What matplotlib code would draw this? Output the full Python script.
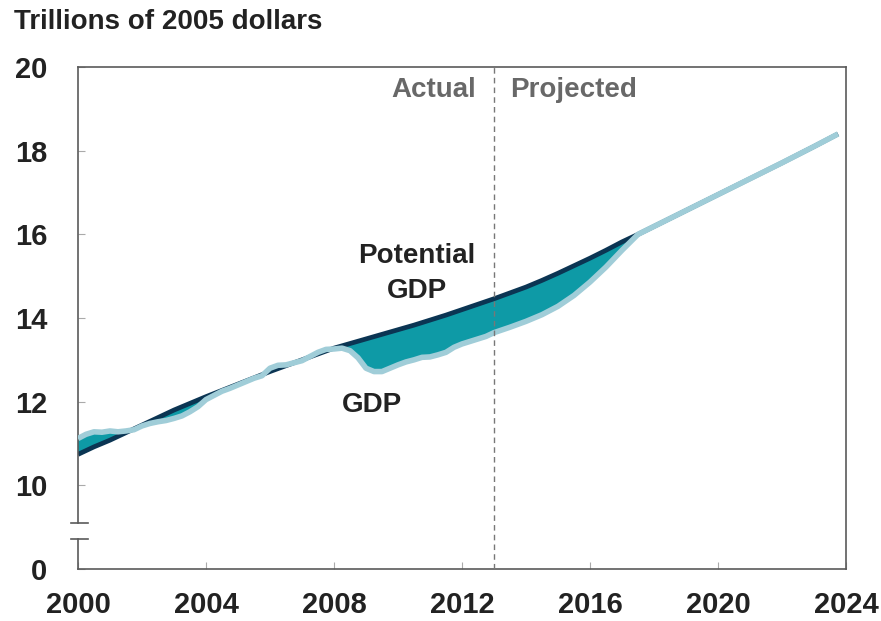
import numpy as np
import matplotlib
matplotlib.use("Agg")
import matplotlib.pyplot as plt
import matplotlib.transforms as mtransforms

plt.rcParams['font.family'] = ['Liberation Sans', 'DejaVu Sans']
plt.rcParams['font.weight'] = 'bold'

# actual + projected GDP (trillions of 2005 dollars)
gdp_years = [2000.0, 2000.25, 2000.5, 2000.75, 2001.0, 2001.25, 2001.5, 2001.75,
             2002.0, 2002.25, 2002.5, 2002.75, 2003.0, 2003.25, 2003.5, 2003.75,
             2004.0, 2004.25, 2004.5, 2004.75, 2005.0, 2005.25, 2005.5, 2005.75,
             2006.0, 2006.25, 2006.5, 2006.75, 2007.0, 2007.25, 2007.5, 2007.75,
             2008.0, 2008.25, 2008.5, 2008.75, 2009.0, 2009.25, 2009.5, 2009.75,
             2010.0, 2010.25, 2010.5, 2010.75, 2011.0, 2011.25, 2011.5, 2011.75,
             2012.0, 2012.25, 2012.5, 2012.75, 2013.0,
             2013.5, 2014.0, 2014.5, 2015.0, 2015.5, 2016.0, 2016.5, 2017.0, 2017.5,
             2018.0, 2019.0, 2020.0, 2021.0, 2022.0, 2023.0, 2023.75]
gdp = [11.12, 11.22, 11.28, 11.27, 11.30, 11.28, 11.30, 11.33,
       11.42, 11.48, 11.52, 11.55, 11.60, 11.66, 11.76, 11.88,
       12.05, 12.15, 12.25, 12.32, 12.40, 12.48, 12.56, 12.62,
       12.80, 12.87, 12.88, 12.93, 12.98, 13.08, 13.18, 13.25,
       13.26, 13.28, 13.22, 13.05, 12.80, 12.72, 12.72, 12.80,
       12.88, 12.95, 13.00, 13.06, 13.07, 13.12, 13.18, 13.30,
       13.38, 13.44, 13.50, 13.56, 13.65,
       13.78, 13.92, 14.08, 14.28, 14.54, 14.86, 15.22, 15.62, 16.00,
       16.19, 16.57, 16.95, 17.33, 17.71, 18.10, 18.40]

# potential GDP
pot_years = [2000.0, 2000.5, 2001.0, 2001.5, 2002.0, 2002.5, 2003.0, 2003.5,
             2004.0, 2004.5, 2005.0, 2005.5, 2006.0, 2006.5, 2007.0, 2007.5,
             2008.0, 2008.5, 2009.0, 2009.5, 2010.0, 2010.5, 2011.0, 2011.5,
             2012.0, 2012.5, 2013.0, 2013.5, 2014.0, 2014.5, 2015.0, 2015.5,
             2016.0, 2016.5, 2017.0, 2017.5,
             2018.0, 2019.0, 2020.0, 2021.0, 2022.0, 2023.0, 2023.75]
potential = [10.74, 10.92, 11.08, 11.26, 11.44, 11.62, 11.80, 11.96,
             12.12, 12.27, 12.42, 12.57, 12.72, 12.86, 13.00, 13.14,
             13.28, 13.39, 13.50, 13.61, 13.72, 13.83, 13.95, 14.07,
             14.20, 14.33, 14.46, 14.60, 14.74, 14.90, 15.07, 15.25,
             15.43, 15.62, 15.82, 16.00,
             16.19, 16.57, 16.95, 17.33, 17.71, 18.10, 18.40]

y_ticks = [8, 10, 12, 14, 16, 18, 20]
y_labels = ['0', '10', '12', '14', '16', '18', '20']
x_ticks = [2000, 2004, 2008, 2012, 2016, 2020, 2024]

dark = '#0b3553'
teal = '#0e9aa6'
light = '#a0cdd8'
axis_col = '#5a5a5a'
text_col = '#222222'

fig = plt.figure(figsize=(8.81, 6.21), dpi=100)
ax = fig.add_axes([0.0885, 0.0837, 0.8718, 0.8084])

gx = np.array(gdp_years)
gy = np.array(gdp)
px = np.array(pot_years)
py = np.array(potential)

# gap between the two curves
ax.fill(np.concatenate([px, gx[::-1]]), np.concatenate([py, gy[::-1]]),
        color=teal, lw=0, zorder=1)
ax.plot(px, py, color=dark, lw=3.4, solid_capstyle='butt', zorder=2)
ax.plot(gx, gy, color=light, lw=4.0, solid_capstyle='butt', zorder=3)

ax.axvline(2013, color='#777777', lw=1, ls=(0, (4, 3)), zorder=4)

ax.set_xlim(2000, 2024)
ax.set_ylim(8, 20)
ax.set_xticks(x_ticks)
ax.set_yticks(y_ticks)
ax.set_yticklabels(y_labels)

ax.tick_params(axis='both', direction='in', length=5, width=0.8,
               color='#aaaaaa', labelsize=21, labelcolor=text_col)
ax.tick_params(axis='y', pad=22)
ax.tick_params(axis='x', pad=16)

for s in ['top', 'right', 'bottom']:
    ax.spines[s].set_color(axis_col)
    ax.spines[s].set_linewidth(1.2)
ax.spines['left'].set_visible(False)

# left spine with a break
trans = mtransforms.blended_transform_factory(ax.transAxes, ax.transData)
ax.plot([0, 0], [8, 8.72], color=axis_col, lw=1.2, transform=trans, clip_on=False)
ax.plot([0, 0], [9.1, 20], color=axis_col, lw=1.2, transform=trans, clip_on=False)
ax.plot([-0.009, 0.013], [9.1, 9.1], color=axis_col, lw=1.2, transform=trans, clip_on=False)
ax.plot([-0.009, 0.013], [8.72, 8.72], color=axis_col, lw=1.2, transform=trans, clip_on=False)

ax.text(2012.45, 19.45, 'Actual', ha='right', va='center', fontsize=20,
        color='#686868', fontweight='bold')
ax.text(2013.5, 19.45, 'Projected', ha='left', va='center', fontsize=20,
        color='#686868', fontweight='bold')
ax.text(2010.6, 15.48, 'Potential', ha='center', va='center', fontsize=20,
        color=text_col, fontweight='bold')
ax.text(2010.6, 14.64, 'GDP', ha='center', va='center', fontsize=20,
        color=text_col, fontweight='bold')
ax.text(2009.2, 11.92, 'GDP', ha='center', va='center', fontsize=20,
        color=text_col, fontweight='bold')

fig.text(0.016, 0.9646, 'Trillions of 2005 dollars', ha='left', va='center',
         fontsize=20, color=text_col, fontweight='bold')

fig.savefig('out.png', dpi=100)
